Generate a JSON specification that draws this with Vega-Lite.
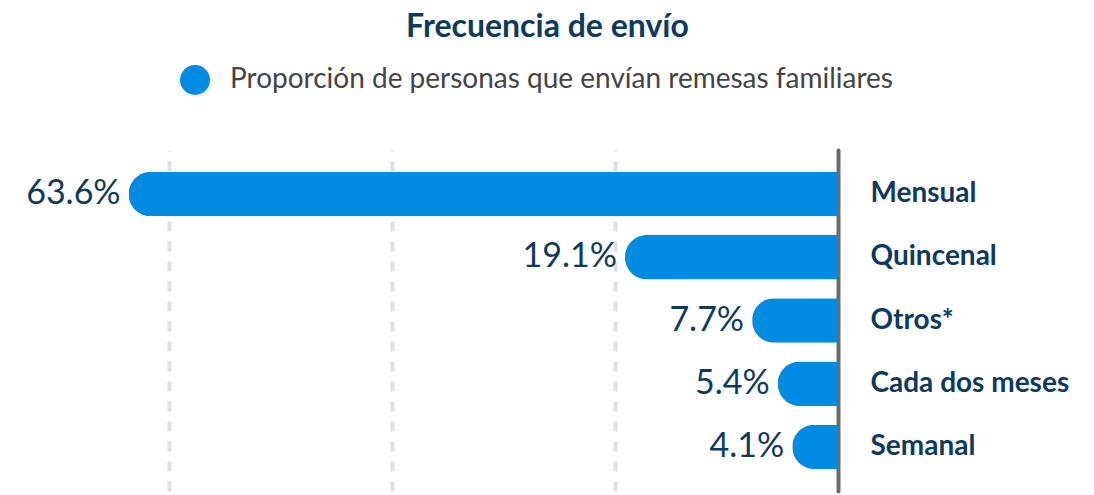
{
  "$schema": "https://vega.github.io/schema/vega-lite/v6.json",
  "width": 725,
  "height": 341,
  "autosize": {"type": "none"},
  "padding": {"left": 113, "top": 150, "right": 256, "bottom": 4},
  "background": "white",
  "config": {"view": {"stroke": null}},
  "title": {
    "text": "Frecuencia de envío",
    "font": "Lato",
    "fontSize": 32,
    "fontWeight": "bold",
    "color": "#0e3a5c",
    "anchor": "middle",
    "frame": "group",
    "offset": 21,
    "dx": 72
  },
  "data": {
    "values": [
      {"categoria": "Mensual", "valor": 63.6, "etiqueta": "63.6%", "serie": "Proporción de personas que envían remesas familiares"},
      {"categoria": "Quincenal", "valor": 19.1, "etiqueta": "19.1%", "serie": "Proporción de personas que envían remesas familiares"},
      {"categoria": "Otros*", "valor": 7.7, "etiqueta": "7.7%", "serie": "Proporción de personas que envían remesas familiares"},
      {"categoria": "Cada dos meses", "valor": 5.4, "etiqueta": "5.4%", "serie": "Proporción de personas que envían remesas familiares"},
      {"categoria": "Semanal", "valor": 4.1, "etiqueta": "4.1%", "serie": "Proporción de personas que envían remesas familiares"}
    ]
  },
  "encoding": {
    "y": {
      "field": "categoria",
      "type": "nominal",
      "sort": null,
      "scale": {"paddingInner": 0.3, "paddingOuter": 0.346},
      "axis": {
        "orient": "right",
        "title": null,
        "domain": true,
        "domainColor": "#6b6b6b",
        "domainWidth": 4,
        "domainCap": "round",
        "ticks": false,
        "labelPadding": 32,
        "labelFont": "Lato",
        "labelFontWeight": "bold",
        "labelFontSize": 28,
        "labelColor": "#0e3a5c",
        "labelAlign": "left",
        "labelLimit": 0
      }
    },
    "x": {
      "field": "valor",
      "type": "quantitative",
      "scale": {"domain": [0, 65], "reverse": true},
      "axis": {
        "title": null,
        "labels": false,
        "ticks": false,
        "domain": false,
        "grid": true,
        "gridColor": "#e0e0e0",
        "gridWidth": 4,
        "gridDash": [10, 10],
        "values": [20, 40, 60]
      }
    }
  },
  "layer": [
    {
      "mark": {"type": "bar", "cornerRadiusTopLeft": 22, "cornerRadiusBottomLeft": 22},
      "encoding": {
        "color": {
          "field": "serie",
          "type": "nominal",
          "scale": {"range": ["#028be2"]},
          "legend": {
            "orient": "none",
            "legendX": 67,
            "legendY": -85,
            "title": null,
            "symbolType": "circle",
            "symbolSize": 900,
            "symbolStrokeWidth": 0,
            "symbolOpacity": 1,
            "labelFont": "Lato",
            "labelFontSize": 28,
            "labelColor": "#444444",
            "labelOffset": 20,
            "labelLimit": 0
          }
        }
      }
    },
    {
      "mark": {"type": "text", "align": "right", "baseline": "middle", "dx": -8, "font": "Lato", "fontSize": 34, "color": "#0e3a5c"},
      "encoding": {"text": {"field": "etiqueta"}}
    }
  ]
}
